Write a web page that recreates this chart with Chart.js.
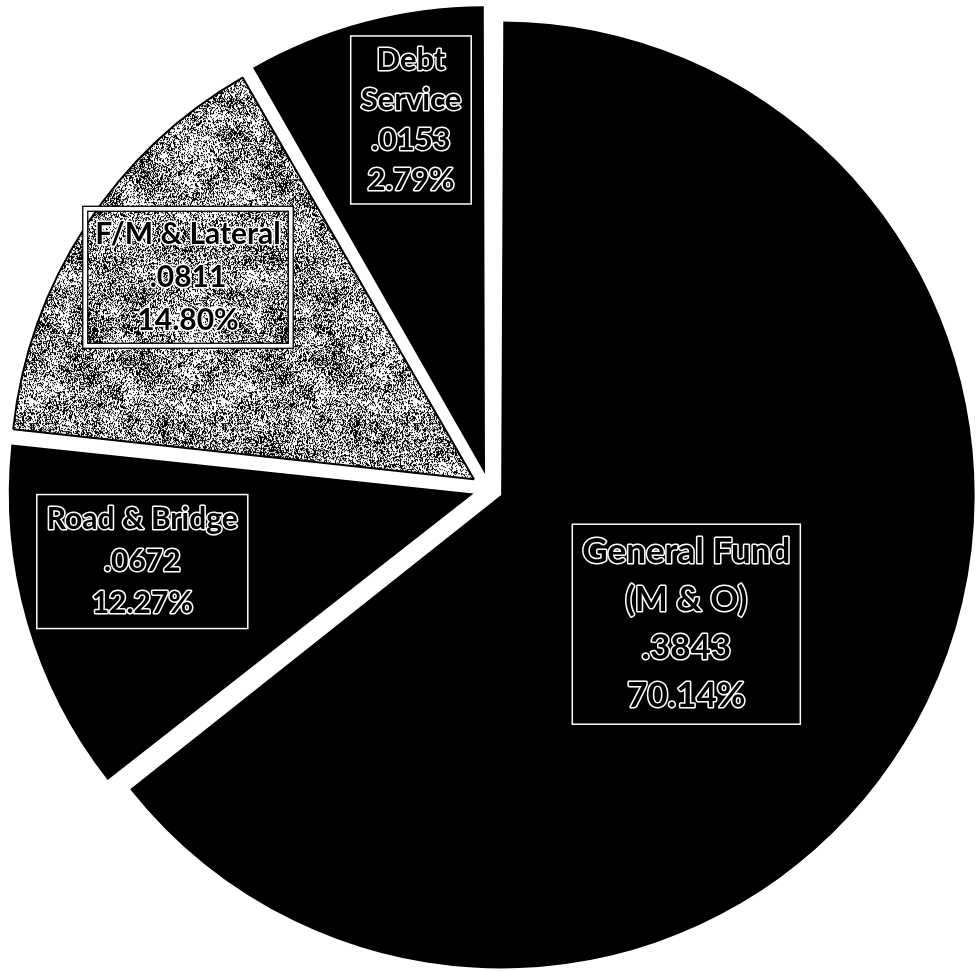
<!DOCTYPE html>
<html>
<head>
<meta charset="utf-8">
<script src="https://cdn.jsdelivr.net/npm/chart.js@4.4.1/dist/chart.umd.min.js"></script>
<style>
html, body { margin: 0; padding: 0; background: #fff; }
canvas { display: block; }
</style>
</head>
<body>
<canvas id="pie" width="976" height="971"></canvas>
<script>
// funds, clockwise from 12 o'clock
const funds = ['General Fund', 'Road & Bridge', 'F/M & Lateral', 'Debt Service'];
const nameLines = [['General Fund', '(M & O)'], ['Road & Bridge'], ['F/M & Lateral'], ['Debt', 'Service']];
const rates = ['.3843', '.0672', '.0811', '.0153'];
const pctText = ['70.14%', '12.27%', '14.80%', '2.79%'];
// how much of the circle each wedge takes in the picture (percent)
const wedgeShare = [64.4, 12.3, 15.0, 8.3];

// label placement: [degrees off the wedge middle, fraction of radius]
const place = [[8.5, 0.52], [4.2, 0.77], [2.0, 0.8], [3.0, 0.82]];
const labelFont = ['bold 35px', 'bold 30px', 'bold 30px', 'bold 31px'];
const lineH = [48, 42, 43, 40];

function mulberry(a) {
    return function() {
        a |= 0; a = a + 0x6D2B79F5 | 0;
        let t = Math.imul(a ^ a >>> 15, 1 | a);
        t = t + Math.imul(t ^ t >>> 7, 61 | t) ^ t;
        return ((t ^ t >>> 14) >>> 0) / 4294967296;
    };
}

// grainy black/white fill for the F/M wedge
function speckle() {
    const n = 192, cell = 16, g = n / cell;
    const c = document.createElement('canvas');
    c.width = n; c.height = n;
    const cx = c.getContext('2d');
    const img = cx.createImageData(n, n);
    const rnd = mulberry(77);
    const grid = [];
    for (let i = 0; i < g * g; i++) grid.push(0.22 + rnd() * 0.5);
    function at(x, y) { return grid[((y + g) % g) * g + ((x + g) % g)]; }
    for (let y = 0; y < n; y++) {
        for (let x = 0; x < n; x++) {
            const gx = x / cell, gy = y / cell;
            const x0 = Math.floor(gx), y0 = Math.floor(gy);
            const fx = gx - x0, fy = gy - y0;
            const d = at(x0, y0) * (1 - fx) * (1 - fy) + at(x0 + 1, y0) * fx * (1 - fy) +
                      at(x0, y0 + 1) * (1 - fx) * fy + at(x0 + 1, y0 + 1) * fx * fy;
            const v = rnd() < d ? 0 : 255;
            const k = (y * n + x) * 4;
            img.data[k] = v; img.data[k + 1] = v; img.data[k + 2] = v; img.data[k + 3] = 255;
        }
    }
    cx.putImageData(img, 0, 0);
    return cx.createPattern(c, 'repeat');
}

const ctx = document.getElementById('pie').getContext('2d');
const grain = speckle();

const boxLabels = {
    id: 'boxLabels',
    afterDatasetsDraw(chart) {
        const c = chart.ctx;
        const arcs = chart.getDatasetMeta(0).data;
        arcs.forEach(function(arc, i) {
            const p = arc.getProps(['x', 'y', 'startAngle', 'endAngle', 'outerRadius'], true);
            const a = (p.startAngle + p.endAngle) / 2 + place[i][0] * Math.PI / 180;
            const r = p.outerRadius * place[i][1];
            const mx = p.x + Math.cos(a) * r;
            const my = p.y + Math.sin(a) * r;
            const lines = nameLines[i].concat([rates[i], pctText[i]]);
            c.save();
            c.font = labelFont[i] + ' Lato, "Liberation Sans", sans-serif';
            c.textAlign = 'center';
            c.textBaseline = 'middle';
            let w = 0;
            lines.forEach(function(t) { w = Math.max(w, c.measureText(t).width); });
            const bw = w + 20, bh = lines.length * lineH[i] + 8;
            const bx = mx - bw / 2, by = my - bh / 2;
            const dark = i !== 2;
            if (dark) {
                c.strokeStyle = '#fff';
                c.lineWidth = 1.5;
                c.strokeRect(bx, by, bw, bh);
            } else {
                c.strokeStyle = '#fff';
                c.lineWidth = 5;
                c.strokeRect(bx, by, bw, bh);
                c.strokeStyle = '#000';
                c.lineWidth = 1.3;
                c.strokeRect(bx - 2.5, by - 2.5, bw + 5, bh + 5);
                c.strokeRect(bx + 2.5, by + 2.5, bw - 5, bh - 5);
            }
            lines.forEach(function(t, j) {
                const ty = by + 4 + lineH[i] * (j + 0.5);
                c.lineJoin = 'round';
                c.strokeStyle = '#fff';
                c.lineWidth = 3;
                c.strokeText(t, mx, ty);
                c.fillStyle = '#000';
                c.fillText(t, mx, ty);
            });
            c.restore();
        });
    }
};

new Chart(ctx, {
    type: 'pie',
    data: {
        labels: funds,
        datasets: [{
            data: wedgeShare,
            backgroundColor: ['#000', '#000', grain, '#000'],
            borderColor: ['#000', '#000', '#000', '#000'],
            borderWidth: [0, 0, 2, 0],
            offset: [54, 64, 72, 62]
        }]
    },
    options: {
        responsive: false,
        animation: false,
        radius: 460,
        layout: { padding: { left: 2, right: 0, top: 7, bottom: 0 } },
        plugins: {
            legend: { display: false },
            tooltip: { enabled: false }
        }
    },
    plugins: [boxLabels]
});
</script>
</body>
</html>
